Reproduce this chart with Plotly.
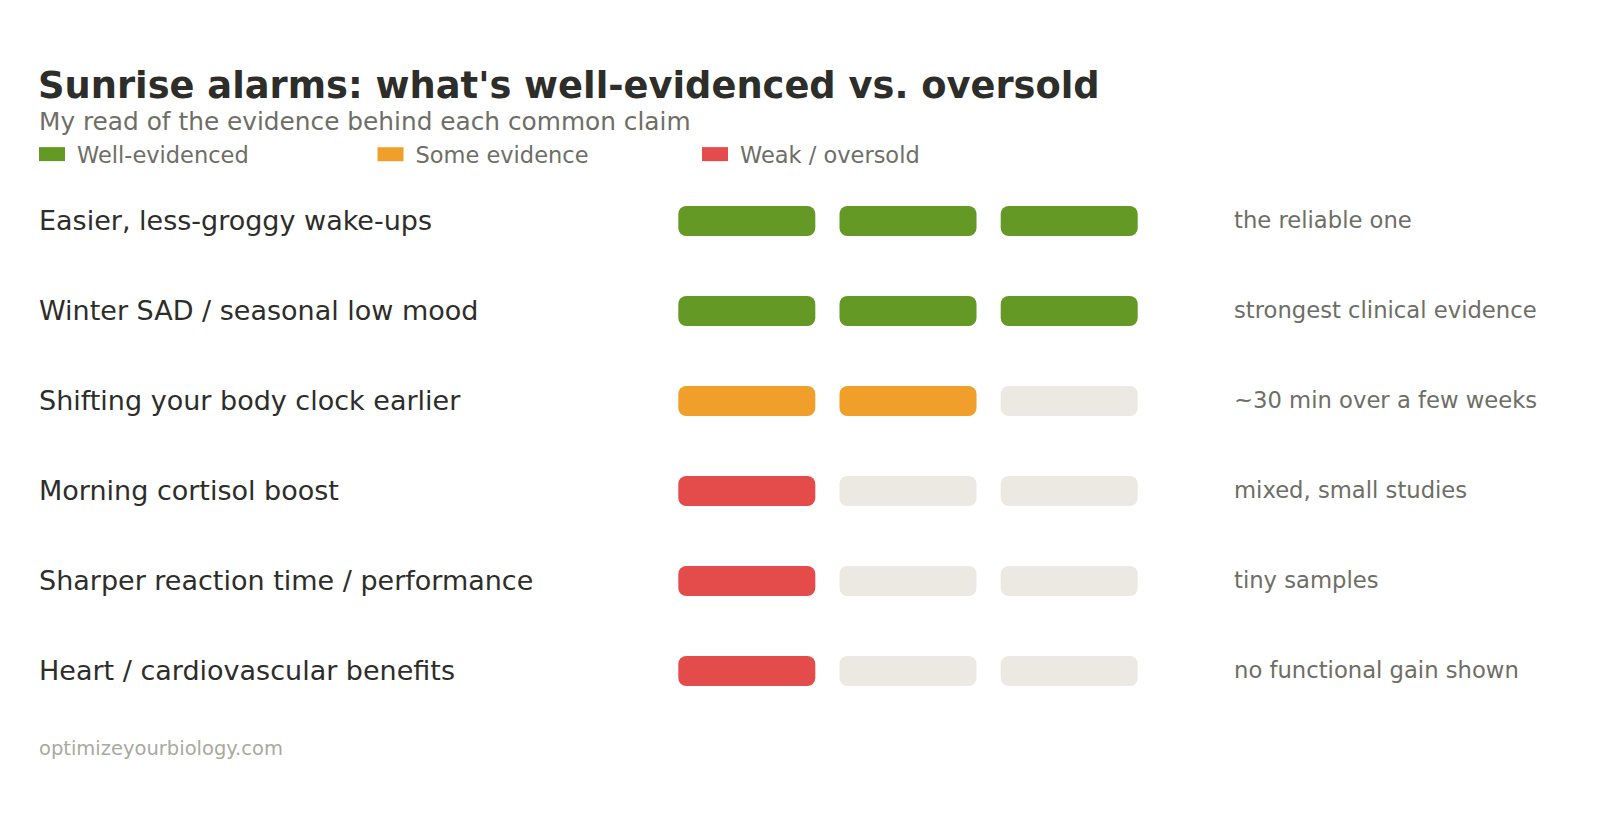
import plotly.graph_objects as go

# ---- data ----
claims = [
    "Easier, less-groggy wake-ups",
    "Winter SAD / seasonal low mood",
    "Shifting your body clock earlier",
    "Morning cortisol boost",
    "Sharper reaction time / performance",
    "Heart / cardiovascular benefits",
]
scores = [3, 3, 2, 1, 1, 1]  # filled segments out of 3
notes = [
    "the reliable one",
    "strongest clinical evidence",
    "~30 min over a few weeks",
    "mixed, small studies",
    "tiny samples",
    "no functional gain shown",
]
levels = {3: "Well-evidenced", 2: "Some evidence", 1: "Weak / oversold"}
level_colors = {3: "#659926", 2: "#EF9F2A", 1: "#E44C4C"}
empty_color = "#ECE9E2"
max_segments = 3
seg_width = 0.85

title = "Sunrise alarms: what's well-evidenced vs. oversold"
subtitle = "My read of the evidence behind each common claim"
footer = "optimizeyourbiology.com"

# ---- layout helpers ----
W, H = 1600, 839
plot_top, plot_bottom = 176, 716
x0_px, unit_px = 678.3, 161.2


def py(px):
    return (plot_bottom - px) / (plot_bottom - plot_top)


def px_x(px):
    return px / W


FONT = "DejaVu Sans"
DARK = "#2D2D2A"
MID = "#6E6E66"
LIGHT = "#A9A99F"

fig = go.Figure()

# filled segments, one trace per evidence level
legend_ids = {3: "legend", 2: "legend2", 1: "legend3"}
for lvl in [3, 2, 1]:
    ys, bases = [], []
    for c, s in zip(claims, scores):
        if s == lvl:
            for i in range(s):
                ys.append(c)
                bases.append(i)
    fig.add_trace(go.Bar(
        y=ys, x=[seg_width] * len(ys), base=bases, orientation="h",
        name=levels[lvl], marker=dict(color=level_colors[lvl], cornerradius=8, line=dict(width=0)),
        legend=legend_ids[lvl], hoverinfo="skip",
    ))

# empty segments
ys, bases = [], []
for c, s in zip(claims, scores):
    for i in range(s, max_segments):
        ys.append(c)
        bases.append(i)
fig.add_trace(go.Bar(
    y=ys, x=[seg_width] * len(ys), base=bases, orientation="h",
    marker=dict(color=empty_color, cornerradius=8, line=dict(width=0)),
    showlegend=False, hoverinfo="skip",
))

annotations = []
for c, n in zip(claims, notes):
    annotations.append(dict(text=c, x=px_x(37), xref="paper", y=c, yref="y",
                            xanchor="left", yanchor="middle", showarrow=False, yshift=1,
                            font=dict(family=FONT, size=27, color=DARK)))
    annotations.append(dict(text=n, x=px_x(1232), xref="paper", y=c, yref="y",
                            xanchor="left", yanchor="middle", showarrow=False, yshift=1,
                            font=dict(family=FONT, size=22.7, color=MID)))

annotations.append(dict(text=subtitle, x=px_x(37), xref="paper", y=py(121.5), yref="paper",
                        xanchor="left", yanchor="middle", showarrow=False,
                        font=dict(family=FONT, size=24.8, color=MID)))
annotations.append(dict(text=footer, x=px_x(37), xref="paper", y=py(748), yref="paper",
                        xanchor="left", yanchor="middle", showarrow=False,
                        font=dict(family=FONT, size=19.5, color=LIGHT)))

legend_common = dict(orientation="h", yref="paper", y=py(154.5), yanchor="middle",
                     xanchor="left", font=dict(family=FONT, size=22.5, color=MID),
                     bgcolor="rgba(0,0,0,0)", itemwidth=40, borderwidth=0,
                     itemclick=False, itemdoubleclick=False)

fig.update_layout(
    width=W, height=H,
    margin=dict(l=0, r=0, t=plot_top, b=H - plot_bottom, pad=0),
    paper_bgcolor="white", plot_bgcolor="white",
    barmode="overlay", bargap=0.667,
    showlegend=True,
    hovermode=False,
    title=dict(text=title, x=px_x(38), xanchor="left", xref="container",
               y=1 - 85 / H, yanchor="middle", yref="container",
               font=dict(family=FONT, size=36.8, color=DARK, weight=700)),
    xaxis=dict(visible=False, range=[-x0_px / unit_px, (W - x0_px) / unit_px], fixedrange=True),
    yaxis=dict(visible=False, type="category", categoryorder="array", categoryarray=claims,
               range=[len(claims) - 0.5, -0.5], fixedrange=True),
    annotations=annotations,
    legend=dict(legend_common, x=px_x(27)),
    legend2=dict(legend_common, x=px_x(365.5)),
    legend3=dict(legend_common, x=px_x(690)),
)

# widen the legend keys into the reference's 26x14 swatches
post = """
(function(){
  var gd = document.getElementById('{plot_id}');
  function fixLegend() {
    var ps = document.querySelectorAll('g.legendpoints path');
    for (var i = 0; i < ps.length; i++) {
      ps[i].setAttribute('d', 'M13,7H-13V-7H13Z');
    }
  }
  fixLegend();
  if (gd && gd.on) { gd.on('plotly_afterplot', fixLegend); }
  var n = 0;
  var iv = setInterval(function(){ fixLegend(); n++; if (n > 40) clearInterval(iv); }, 50);
})();
"""

fig.write_html("out.html", config={"displayModeBar": False}, post_script=post)
